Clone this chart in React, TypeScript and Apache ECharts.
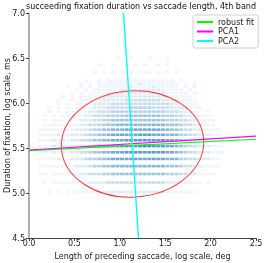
import React, { useEffect, useRef } from "react";
import * as echarts from "echarts";

const TITLE = "succeeding fixation duration vs saccade length, 4th band";
const X_NAME = "Length of preceding saccade, log scale, deg";
const Y_NAME = "Duration of fixation, log scale, ms";

const X_MIN = 0;
const X_MAX = 2.5;
const Y_MIN = 4.5;
const Y_MAX = 7.0;
const TICK_STEP = 0.5;

// fixation durations of each visible row of dots (ms), plotted as ln(ms)
const ROW_DURATIONS_MS = [
  150, 166.7, 183.3, 200, 216.7, 233.3, 250, 266.7, 283.3, 300, 316.7, 333.3,
  350, 366.7, 383.3, 400, 416.7, 433.3, 450, 466.7, 483.3, 500, 516.7, 566.7,
  616.7, 666.7,
];

// density of dots per x bin (0.05 wide, from x = 0), digits 0..9
const ROW_DENSITY = [
  "00 0010101011 111112 222222222222111 111100 00000 000000", // 150
  "00 0101111111 122223 333333333333222 221110 10000 000000", // 166.7
  "00 1101111112 233344 555555555555444 332211 11000 000000", // 183.3
  "00 1111111122 234455 666666666666555 433221 11100 000000", // 200
  "00 1111211222 344556 777777777777666 443322 21100 000000", // 216.7
  "00 1112121223 345566 777888888888776 543322 21110 000000", // 233.3
  "00 1112121223 345667 778888999888776 543322 21110 000000", // 250
  "00 1112121223 345566 777888888888776 543322 21110 000000", // 266.7
  "00 1111211222 344556 777777888777666 443322 21100 000000", // 283.3
  "00 1111111122 234455 666777777776655 433221 11100 000000", // 300
  "00 0111111112 233445 566666666666555 433221 11000 000000", // 316.7
  "00 0101111112 223344 555555555555444 332211 11000 000000", // 333.3
  "00 0101011111 223334 444555555554443 322111 10000 000000", // 350
  "00 0010101111 122333 444444444444333 221110 10000 000000", // 366.7
  "00 0010101011 112223 333344444333322 221110 00000 000000", // 383.3
  "00 0000101011 112222 333333333333322 211100 00000 000000", // 400
  "00 0000100101 111222 222333333332222 111100 00000 000000", // 416.7
  "00 0000010101 111122 222222222222211 111000 00000 000000", // 433.3
  "00 0000000101 011112 222222222222111 110100 00000 000000", // 450
  "00 0000000010 101111 112222222221111 101000 00000 000000", // 466.7
  "00 0000001001 010111 111121111211111 010100 00000 000000", // 483.3
  "00 0000000001 010111 111111211111111 010100 00000 000000", // 500
  "00 0000000000 100101 111111111111110 100000 00000 000000", // 516.7
  "00 0000000000 001010 101110111010101 000000 00000 000000", // 566.7
  "00 0000000000 000100 100101010010100 000000 00000 000000", // 616.7
  "00 0000000000 000000 010010001000100 000000 00000 000000", // 666.7
];
const X_BIN_WIDTH = 0.05;
const OPACITY_LEVELS = [0, 0.07, 0.15, 0.24, 0.33, 0.43, 0.53, 0.63, 0.72, 0.82];

const ROBUST_FIT = [
  [0, 5.47],
  [2.5, 5.597],
];
const PCA1 = [
  [0, 5.478],
  [2.5, 5.633],
];
const PCA2 = [
  [1.04, 7.0],
  [1.206, 4.5],
];
const ELLIPSE_CENTER = [1.14, 5.545];
const ELLIPSE_SEMI_AXES = [0.785, 0.59];

const FONT = "DejaVu Sans";

export default function App() {
  const ref = useRef<HTMLDivElement>(null);

  useEffect(() => {
    if (!ref.current) return;
    const chart = echarts.init(ref.current, null, { renderer: "svg" });

    const dots: any[] = [];
    ROW_DURATIONS_MS.forEach((ms, r) => {
      const y = Math.log(ms);
      const s = ROW_DENSITY[r].replace(/ /g, "");
      for (let i = 0; i < s.length; i++) {
        const d = Number(s[i]);
        if (d > 0) {
          dots.push({
            value: [(i + 0.5) * X_BIN_WIDTH, y],
            itemStyle: { opacity: OPACITY_LEVELS[d] },
          });
        }
      }
    });

    const labelFmt = (v: number) => v.toFixed(1);

    chart.setOption({
      animation: false,
      grid: {
        left: 29,
        top: 13,
        right: 8,
        bottom: 25,
        containLabel: false,
        outerBoundsMode: "none",
      },
      legend: {
        data: ["robust fit", "PCA1", "PCA2"],
        orient: "vertical",
        left: 193,
        top: 15,
        padding: [3, 4, 3, 4],
        itemWidth: 16,
        itemHeight: 2,
        itemGap: 1.5,
        icon: "rect",
        backgroundColor: "rgba(255,255,255,0.85)",
        borderColor: "#d0d0d0",
        borderWidth: 1,
        borderRadius: 2,
        textStyle: { fontSize: 8, fontFamily: FONT, color: "#222" },
      },
      xAxis: {
        type: "value",
        min: X_MIN,
        max: X_MAX,
        interval: TICK_STEP,
        name: X_NAME,
        nameLocation: "middle",
        nameGap: 8,
        nameTextStyle: { fontSize: 8, fontFamily: FONT, color: "#222" },
        axisLine: { show: true, lineStyle: { color: "#444", width: 1 } },
        axisTick: { show: true, length: 3, lineStyle: { color: "#444" } },
        axisLabel: {
          fontSize: 8,
          fontFamily: FONT,
          color: "#222",
          margin: 1.5,
          formatter: labelFmt,
        },
        splitLine: { show: false },
      },
      yAxis: {
        type: "value",
        min: Y_MIN,
        max: Y_MAX,
        interval: TICK_STEP,
        axisLine: { show: true, lineStyle: { color: "#999", width: 1.5 } },
        axisTick: { show: true, length: 3, lineStyle: { color: "#444" } },
        axisLabel: {
          fontSize: 8,
          fontFamily: FONT,
          color: "#222",
          margin: 4,
          formatter: labelFmt,
        },
        splitLine: { show: false },
      },
      series: [
        {
          type: "scatter",
          data: dots,
          symbol: "rect",
          symbolSize: [4, 2.6],
          itemStyle: { color: "#1f77b4" },
          silent: true,
          z: 1,
        },
        {
          name: "robust fit",
          type: "line",
          data: ROBUST_FIT,
          showSymbol: false,
          symbol: "none",
          lineStyle: { color: "#00ff00", width: 1.2 },
          itemStyle: { color: "#00ff00" },
          z: 3,
        },
        {
          name: "PCA1",
          type: "line",
          data: PCA1,
          showSymbol: false,
          symbol: "none",
          lineStyle: { color: "#ff00ff", width: 1.2 },
          itemStyle: { color: "#ff00ff" },
          z: 4,
        },
        {
          name: "PCA2",
          type: "line",
          data: PCA2,
          showSymbol: false,
          symbol: "none",
          lineStyle: { color: "#00ffff", width: 1.4 },
          itemStyle: { color: "#00ffff" },
          z: 5,
        },
      ],
    });

    const c = chart.convertToPixel({ gridIndex: 0 }, ELLIPSE_CENTER) as number[];
    const ax = chart.convertToPixel({ gridIndex: 0 }, [
      ELLIPSE_CENTER[0] + ELLIPSE_SEMI_AXES[0],
      ELLIPSE_CENTER[1],
    ]) as number[];
    const ay = chart.convertToPixel({ gridIndex: 0 }, [
      ELLIPSE_CENTER[0],
      ELLIPSE_CENTER[1] + ELLIPSE_SEMI_AXES[1],
    ]) as number[];
    const p0 = chart.convertToPixel({ gridIndex: 0 }, PCA1[0]) as number[];
    const p1 = chart.convertToPixel({ gridIndex: 0 }, PCA1[1]) as number[];
    const angle = Math.atan2(p0[1] - p1[1], p1[0] - p0[0]);
    const yMid = chart.convertToPixel({ gridIndex: 0 }, [0, (Y_MIN + Y_MAX) / 2]) as number[];

    chart.setOption({
      graphic: [
        {
          type: "text",
          x: 141,
          y: 6,
          style: {
            text: TITLE,
            fontSize: 8,
            fontFamily: FONT,
            fill: "#111",
            align: "center",
            verticalAlign: "middle",
          },
        },
        {
          type: "text",
          x: 7,
          y: yMid[1],
          rotation: Math.PI / 2,
          style: {
            text: Y_NAME,
            fontSize: 8,
            fontFamily: FONT,
            fill: "#222",
            align: "center",
            verticalAlign: "middle",
          },
        },
        {
          type: "ellipse",
          x: c[0],
          y: c[1],
          rotation: angle,
          shape: { cx: 0, cy: 0, rx: ax[0] - c[0], ry: c[1] - ay[1] },
          style: { fill: "none", stroke: "#ff3a3a", lineWidth: 1 },
          z: 3,
          silent: true,
        },
      ],
    });

    return () => chart.dispose();
  }, []);

  return (
    <div
      ref={ref}
      style={{ position: "fixed", left: 0, top: 0, width: 264, height: 263 }}
    />
  );
}
